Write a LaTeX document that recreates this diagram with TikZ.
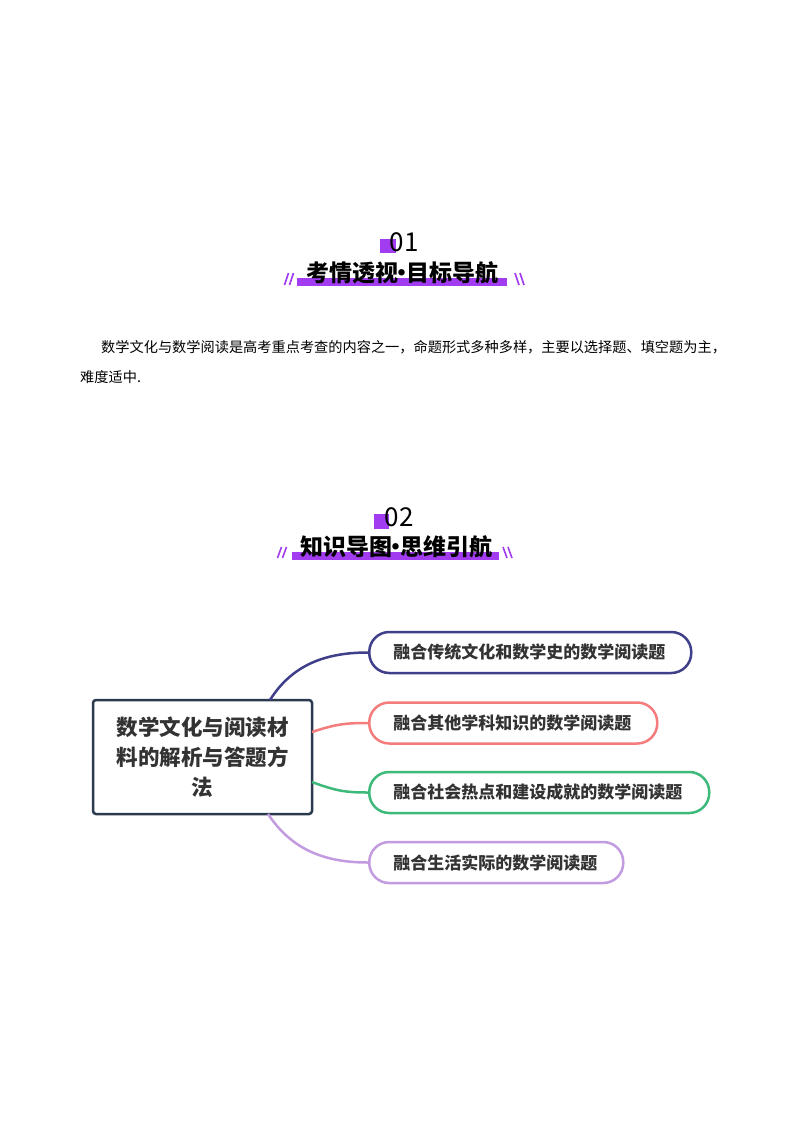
\documentclass[tikz,border=0pt]{standalone}
\usepackage{fontspec}
\newfontfamily\cjk{Noto Sans CJK SC}
\definecolor{vio}{HTML}{A23CF0}
\definecolor{navyb}{HTML}{3F3F8A}
\definecolor{salm}{HTML}{F47C7C}
\definecolor{grn}{HTML}{3DBA7A}
\definecolor{lav}{HTML}{C29BE0}
\definecolor{cbord}{HTML}{2B3A4E}
\definecolor{txt}{HTML}{333333}
\newcommand{\nardot}{\makebox[8pt]{·}}
\tikzset{
  hnum/.style={font=\cjk\fontsize{26}{26}\selectfont, text=black, inner sep=0pt},
  htitle/.style={font=\cjk\bfseries\fontsize{23}{23}\selectfont, text=black, inner sep=0pt},
  para/.style={font=\cjk\fontsize{14.2}{14.2}\selectfont, text=black, inner sep=0pt, anchor=west},
  branch/.style={draw=#1, line width=2.5pt, rounded corners=20pt, minimum height=41pt,
     inner xsep=24pt, inner ysep=0pt, align=left, anchor=west,
     font=\cjk\bfseries\fontsize{17}{17}\selectfont, text=txt},
  conn/.style={draw=#1, line width=2.5pt},
  slash/.style={draw=vio, line width=1.6pt}
}
\begin{document}
\begin{tikzpicture}[x=1pt,y=-1pt]
\useasboundingbox (0,0) rectangle (800,1132);
\fill[white] (0,0) rectangle (800,1132);
% heading 1
\fill[vio] (380,239) rectangle (396,253);
\node[hnum] (n1) at (404,242) {01};
\fill[vio] (297,278) rectangle (507,286);
\node[htitle] (t1) at (402,273) {考情透视\nardot 目标导航};
\draw[slash] (284.5,285) -- (288.5,273);
\draw[slash] (289.5,285) -- (293.5,273);
\draw[slash] (515,273) -- (519,285);
\draw[slash] (520,273) -- (524,285);
% paragraph
\node[para] (p1) at (101,347) {数学文化与数学阅读是高考重点考查的内容之一，命题形式多种多样，主要以选择题、填空题为主，};
\node[para] (p2) at (80,377) {难度适中.};
% heading 2
\fill[vio] (374,514) rectangle (389,529);
\node[hnum] (n2) at (399,517) {02};
\fill[vio] (292,552) rectangle (499,560);
\node[htitle] (t2) at (396,547) {知识导图\nardot 思维引航};
\draw[slash] (277.5,558) -- (281.5,547);
\draw[slash] (282.5,558) -- (286.5,547);
\draw[slash] (503,547) -- (507,558);
\draw[slash] (508,547) -- (512,558);
% mind map
\node[draw=cbord, line width=2.5pt, rounded corners=3pt, minimum width=219pt, minimum height=114pt,
  inner sep=0pt, align=center, font=\cjk\bfseries\fontsize{21.5}{30}\selectfont, text=txt]
  (c) at (202.5,757) {数学文化与阅读材\\料的解析与答题方\\法};
\node[branch=navyb, text width=274pt] (b1) at (368,652.5) {融合传统文化和数学史的数学阅读题};
\node[branch=salm, text width=240pt] (b2) at (368,723) {融合其他学科知识的数学阅读题};
\node[branch=grn, text width=292pt] (b3) at (368,792.5) {融合社会热点和建设成就的数学阅读题};
\node[branch=lav, text width=206pt] (b4) at (368,862.5) {融合生活实际的数学阅读题};
\coordinate (s1) at (270,700);
\coordinate (s2) at (312,732);
\coordinate (s3) at (312,782);
\coordinate (s4) at (268,814);
\draw[conn=navyb] (s1) .. controls (292,665) and (325,652.5) .. (b1.west);
\draw[conn=salm] (s2) .. controls (336,724) and (346,723) .. (b2.west);
\draw[conn=grn] (s3) .. controls (336,791) and (346,792.5) .. (b3.west);
\draw[conn=lav] (s4) .. controls (292,850) and (325,862.5) .. (b4.west);
\end{tikzpicture}
\end{document}
